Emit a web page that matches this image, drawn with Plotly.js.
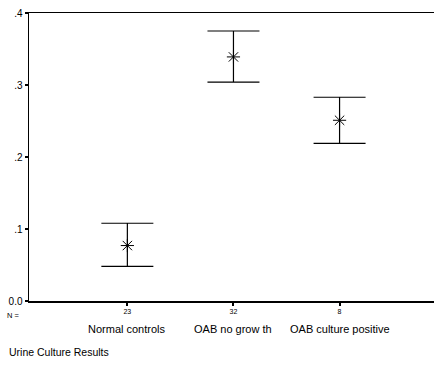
<!DOCTYPE html>
<html>
<head>
<meta charset="utf-8">
<script src="https://cdn.plot.ly/plotly-3.0.1.min.js"></script>
<style>html,body{margin:0;padding:0;background:#fff;}#chart{width:434px;height:368px;}</style>
</head>
<body>
<div id="chart"></div>
<script>
const categories = ["Normal controls", "OAB no grow th", "OAB culture positive"];
const nLabels = ["23", "32", "8"];
const means = [0.077, 0.339, 0.251];
const upper = [0.108, 0.375, 0.283];
const lower = [0.048, 0.304, 0.219];
const yTickVals = [0, 0.1, 0.2, 0.3, 0.4];
const yTickText = ["0.0", ".1", ".2", ".3", ".4"];
const xTitle = "Urine Culture Results";

const xs = categories.map((c, i) => i + 1);
const font = "Liberation Sans, Arial, sans-serif";

const trace = {
  x: xs,
  y: means,
  type: "scatter",
  mode: "markers",
  marker: {symbol: "asterisk-open", size: 11, color: "#000", line: {color: "#000", width: 1}},
  error_y: {
    type: "data",
    symmetric: false,
    array: upper.map((u, i) => u - means[i]),
    arrayminus: means.map((m, i) => m - lower[i]),
    color: "#000",
    thickness: 1.2,
    width: 26
  },
  hoverinfo: "skip"
};

const annotations = categories.map((c, i) => ({
  x: xs[i], y: 0, xref: "x", yref: "paper",
  text: c, showarrow: false, xanchor: "center", yanchor: "top", yshift: -20,
  font: {family: font, size: 11, color: "#000"}
}));
annotations.push({
  x: 0, y: 0, xref: "paper", yref: "paper", text: "N =", showarrow: false,
  xanchor: "left", yanchor: "top", xshift: -24, yshift: -8,
  font: {family: font, size: 7.5, color: "#000"}
});
annotations.push({
  x: 0, y: 0, xref: "paper", yref: "paper", text: xTitle, showarrow: false,
  xanchor: "left", yanchor: "top", xshift: -22, yshift: -43,
  font: {family: font, size: 10.5, color: "#000"}
});

const layout = {
  width: 434, height: 368,
  margin: {l: 29, r: 0, t: 13, b: 67},
  paper_bgcolor: "#fff", plot_bgcolor: "#fff",
  showlegend: false,
  xaxis: {
    range: [0.073, 3.89],
    tickvals: xs, ticktext: nLabels,
    ticks: "outside", ticklen: 3, tickwidth: 2, tickcolor: "#000",
    showline: true, mirror: true, linecolor: "#000", linewidth: 1.5,
    showgrid: false, zeroline: false,
    tickfont: {family: font, size: 7, color: "#000"}
  },
  yaxis: {
    range: [0, 0.4],
    tickvals: yTickVals, ticktext: yTickText,
    ticks: "outside", ticklen: 3, tickwidth: 2, tickcolor: "#000",
    showline: true, linecolor: "#000", linewidth: 1.5,
    showgrid: false, zeroline: false,
    tickfont: {family: font, size: 10, color: "#000"}
  },
  annotations: annotations
};

Plotly.newPlot("chart", [trace], layout, {displayModeBar: false, staticPlot: true});
</script>
</body>
</html>
